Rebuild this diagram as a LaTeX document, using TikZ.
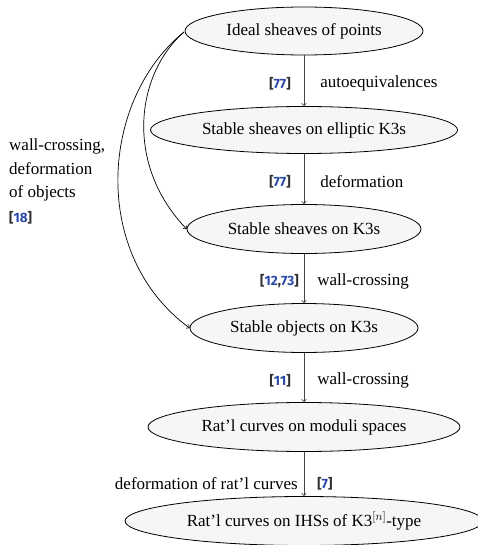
\documentclass[tikz,border=0pt]{standalone}
\usepackage{fontspec}
\setmainfont{Liberation Serif}
\newfontfamily\citefont{Fira Sans}
\usetikzlibrary{shapes.geometric,arrows.meta}
\definecolor{citeblue}{HTML}{2A48A8}
\definecolor{brackc}{HTML}{303030}
\definecolor{nodefill}{HTML}{F6F6F6}
\definecolor{arrc}{HTML}{454545}
\newcommand\cb[1]{\textcolor{citeblue}{#1}}
\newcommand\mycite[1]{{\citefont\bfseries\fontsize{13.5bp}{15bp}\selectfont\color{brackc}[#1]}}
\begin{document}
\begin{tikzpicture}[x=1bp,y=-1bp,
  every node/.style={font=\fontsize{17bp}{23.5bp}\selectfont},
  ell/.style={ellipse,draw=black,line width=0.8bp,fill=nodefill,inner sep=0pt,minimum height=48bp},
  arr/.style={draw=arrc,line width=0.7bp,-{To[length=3bp,width=5bp]}},
  carr/.style={draw=black,line width=0.7bp,-{To[length=3bp,width=5bp]}},
  lab/.style={inner sep=0pt,yshift=-3bp}
]
\useasboundingbox (0,0) rectangle (478,545);
\clip (0,0) rectangle (478,545);
\node[ell,minimum width=238bp] (n1) at (304,31) {Ideal sheaves of points};
\node[ell,minimum width=307bp,minimum height=47bp] (n2) at (304,130) {Stable sheaves on elliptic K3s};
\node[ell,minimum width=234bp,minimum height=49bp] (n3) at (304,229) {Stable sheaves on K3s};
\node[ell,minimum width=228bp,minimum height=49bp] (n4) at (304,328) {Stable objects on K3s};
\node[ell,minimum width=312bp,minimum height=49bp] (n5) at (304,427) {Rat'l curves on moduli spaces};
\node[ell,minimum width=358bp,minimum height=49bp] (n6) at (304,521) {Rat'l curves on IHSs of K3$^{[n]}$-type};

\draw[arr] (n1) -- node[lab,left=13bp]{\mycite{\cb{77}}} node[lab,right=16bp]{autoequivalences} (n2);
\draw[arr] (n2) -- node[lab,left=13bp]{\mycite{\cb{77}}} node[lab,right=16bp]{deformation} (n3);
\draw[arr] (n3) -- node[lab,left=5bp]{\mycite{\cb{12},\cb{73}}} node[lab,right=13bp]{wall-crossing} (n4);
\draw[arr] (n4) -- node[lab,left=13bp]{\mycite{\cb{11}}} node[lab,right=13bp]{wall-crossing} (n5);
\draw[arr] (n5) -- node[lab,left=6bp,yshift=-7bp]{deformation of rat'l curves} node[lab,right=13bp,yshift=-7bp]{\mycite{\cb{7}}} (n6);

\coordinate (s) at (184,32);
\draw[carr] (s) .. controls (135,75) and (125,165) .. (n3.west);
\draw[carr] (s) .. controls (100,100) and (90,255) .. (n4.west);

\node[lab,anchor=north west,align=left] (wl) at (9,136) {wall-crossing,\\deformation\\of objects\\[1bp]\mycite{\cb{18}}};
\end{tikzpicture}
\end{document}
